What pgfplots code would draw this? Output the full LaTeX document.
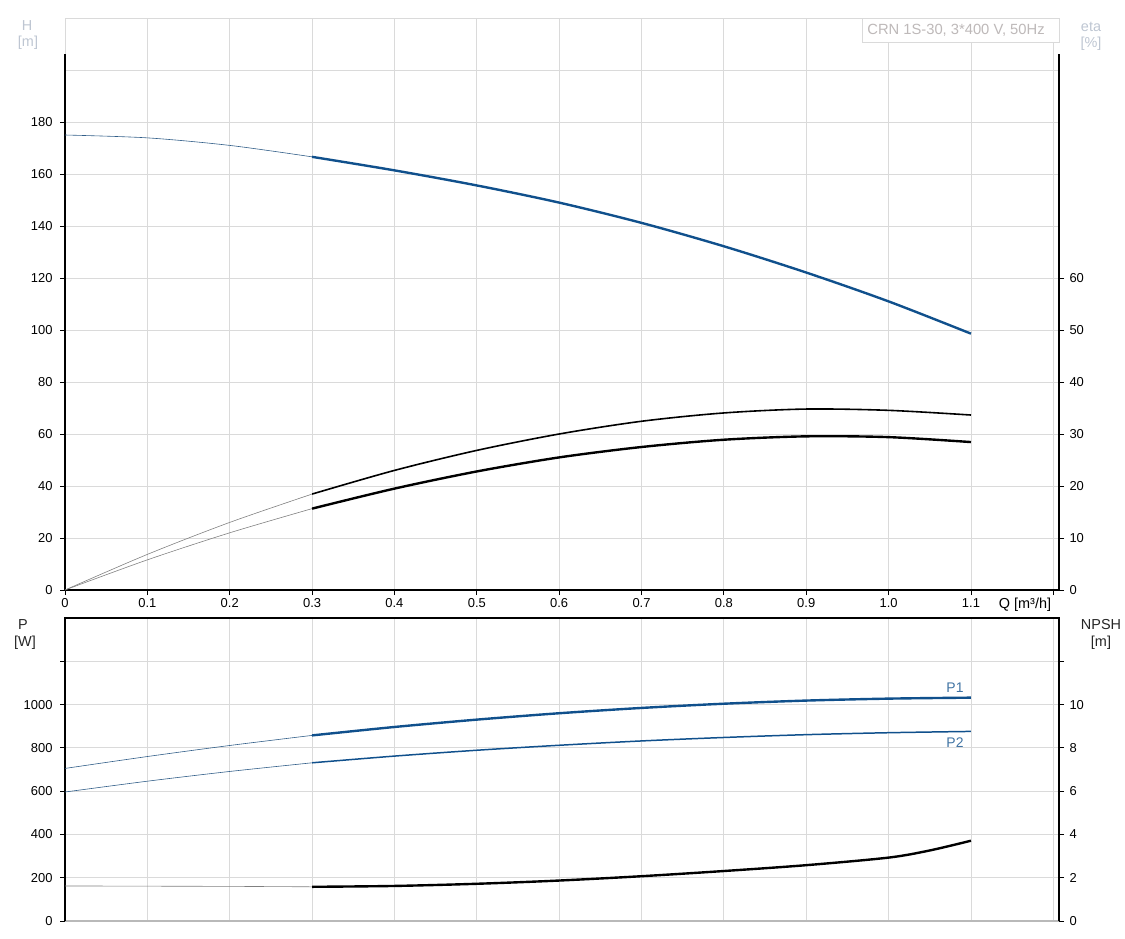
\documentclass[border=0pt]{standalone}
\usepackage{fontspec}
\setmainfont{Liberation Sans}
\usepackage{pgfplots}
\pgfplotsset{compat=1.18}
\definecolor{cblue}{RGB}{16,80,140}
\definecolor{gridc}{RGB}{218,218,218}
\definecolor{lbl}{RGB}{190,198,210}
\definecolor{boxt}{RGB}{190,185,185}
\begin{document}
\begin{tikzpicture}
\path (0,0) rectangle (1125bp,-939bp);
\pgfplotsset{
 base/.style={
  scale only axis, width=994bp, anchor=south west,
  xmin=0, xmax=1.2069,
  axis line style={draw=none},
  tick style={black, line width=0.8pt},
  tick align=outside, major tick length=5bp,
  ticklabel style={font=\fontsize{13}{15}\selectfont},
  /pgf/number format/assume math mode=true,
  clip=false,
 }
}
% ---------------- top panel: H ----------------
\begin{axis}[base, at={(65bp,-590bp)}, height=572bp, ymin=0, ymax=220,
 grid=major, major grid style={gridc, line width=0.8pt},
 xtick={0,0.1,0.2,0.3,0.4,0.5,0.6,0.7,0.8,0.9,1.0,1.1,1.2},
 xticklabels={0,0.1,0.2,0.3,0.4,0.5,0.6,0.7,0.8,0.9,1.0,1.1,{}},
 ytick={0,20,40,60,80,100,120,140,160,180},
 yticklabel style={xshift=-4bp},
 extra y ticks={200,220}, extra y tick labels={},
 extra y tick style={grid=major, major tick length=0pt},
 xtick pos=left, ytick pos=left]
\draw[black, line width=1.2pt] (axis cs:0,206) -- (axis cs:0,0) -- (axis cs:1.2069,0) -- (axis cs:1.2069,206);
\addplot[cblue!70!gray, line width=0.6pt, smooth] coordinates {(0,175)(0.1,173.9)(0.2,171.0)(0.3,166.6)};
\addplot[cblue, line width=2.4pt, smooth] coordinates {(0.3,166.6)(0.4,161.4)(0.5,155.6)(0.6,149.0)(0.7,141.2)(0.8,132.2)(0.9,122.1)(1.0,111.0)(1.1,98.6)};
\end{axis}
% ---------------- top panel: eta ----------------
\begin{axis}[base, at={(65bp,-590bp)}, height=572bp, ymin=0, ymax=110,
 hide x axis, ytick={0,10,20,30,40,50,60}, ytick pos=right,
 yticklabel style={xshift=2bp}]
\addplot[gray, line width=0.6pt, smooth] coordinates {(0,0)(0.1,6.85)(0.2,13.0)(0.3,18.45)};
\addplot[black, line width=1.6pt, smooth] coordinates {(0.3,18.45)(0.4,23.0)(0.5,26.85)(0.6,30.0)(0.7,32.45)(0.8,34.05)(0.9,34.8)(1.0,34.55)(1.1,33.65)};
\addplot[gray, line width=0.6pt, smooth] coordinates {(0,0)(0.1,5.8)(0.2,11.0)(0.3,15.65)};
\addplot[black, line width=2.4pt, smooth] coordinates {(0.3,15.65)(0.4,19.5)(0.5,22.8)(0.6,25.5)(0.7,27.5)(0.8,28.9)(0.9,29.55)(1.0,29.4)(1.1,28.45)};
\end{axis}
% ---------------- bottom panel: P ----------------
\begin{axis}[base, at={(65bp,-921bp)}, height=303bp, ymin=0, ymax=1400,
 grid=major, major grid style={gridc, line width=0.8pt},
 xtick={0,0.1,0.2,0.3,0.4,0.5,0.6,0.7,0.8,0.9,1.0,1.1,1.2},
 xticklabels={}, xtick style={draw=none},
 ytick={0,200,400,600,800,1000,1200},
 yticklabels={0,200,400,600,800,1000,{}},
 yticklabel style={xshift=-4bp},
 extra y ticks={1400}, extra y tick labels={},
 extra y tick style={grid=major, major tick length=0pt},
 ytick pos=left]
\draw[gray!55, line width=1.6pt] (axis cs:0,0) -- (axis cs:1.2069,0);
\draw[black, line width=1.2pt] (axis cs:0,0) -- (axis cs:0,1400) -- (axis cs:1.2069,1400) -- (axis cs:1.2069,0);
\addplot[cblue!70!gray, line width=0.6pt, smooth] coordinates {(0,705)(0.1,760)(0.2,811)(0.3,857.6)};
\addplot[cblue, line width=2.4pt, smooth] coordinates {(0.3,857.6)(0.4,896.5)(0.5,930.5)(0.6,960)(0.7,984.5)(0.8,1004)(0.9,1018.5)(1.0,1027.5)(1.1,1032)};
\addplot[cblue!70!gray, line width=0.6pt, smooth] coordinates {(0,596)(0.1,646)(0.2,691)(0.3,731)};
\addplot[cblue, line width=1.5pt, smooth] coordinates {(0.3,731)(0.4,762)(0.5,789)(0.6,812)(0.7,832)(0.8,848)(0.9,861)(1.0,870)(1.1,876)};
\end{axis}
% ---------------- bottom panel: NPSH ----------------
\begin{axis}[base, at={(65bp,-921bp)}, height=303bp, ymin=0, ymax=14,
 hide x axis, ytick={0,2,4,6,8,10,12}, yticklabels={0,2,4,6,8,10,{}}, ytick pos=right,
 yticklabel style={xshift=2bp}]
\addplot[gray, line width=0.6pt, smooth] coordinates {(0,1.62)(0.1,1.61)(0.2,1.60)(0.3,1.58)};
\addplot[black, line width=2.4pt, smooth] coordinates {(0.3,1.58)(0.4,1.62)(0.5,1.72)(0.6,1.87)(0.7,2.07)(0.8,2.31)(0.9,2.58)(1.0,2.93)(1.05,3.26)(1.1,3.71)};
\end{axis}
% ---------------- labels ----------------
\begin{scope}[every node/.style={font=\fontsize{14.5}{16}\selectfont, inner sep=0pt}]
\node[text=lbl] at (27bp,-26bp) {H};
\node[text=lbl] at (28bp,-43bp) {[m]};
\node[text=lbl] at (1091bp,-27bp) {eta};
\node[text=lbl] at (1091bp,-44bp) {[\%]};
\node[text=black!85] at (23bp,-625bp) {P};
\node[text=black!85] at (25bp,-643bp) {[W]};
\node[text=black!85] at (1101bp,-625bp) {NPSH};
\node[text=black!85] at (1101bp,-643bp) {[m]};
\node[text=black] at (1025bp,-605bp) {Q [m³/h]};
\node[text=cblue!80!white, font=\fontsize{14}{16}\selectfont] at (955bp,-688bp) {P1};
\node[text=cblue!80!white, font=\fontsize{14}{16}\selectfont] at (955bp,-743bp) {P2};
\draw[gridc, line width=0.8pt, fill=white] (862bp,-18bp) rectangle (1059bp,-42bp);
\node[text=boxt, font=\fontsize{14.8}{16}\selectfont] at (956bp,-30bp) {CRN 1S-30, 3*400 V, 50Hz};
\end{scope}
\end{tikzpicture}
\end{document}
